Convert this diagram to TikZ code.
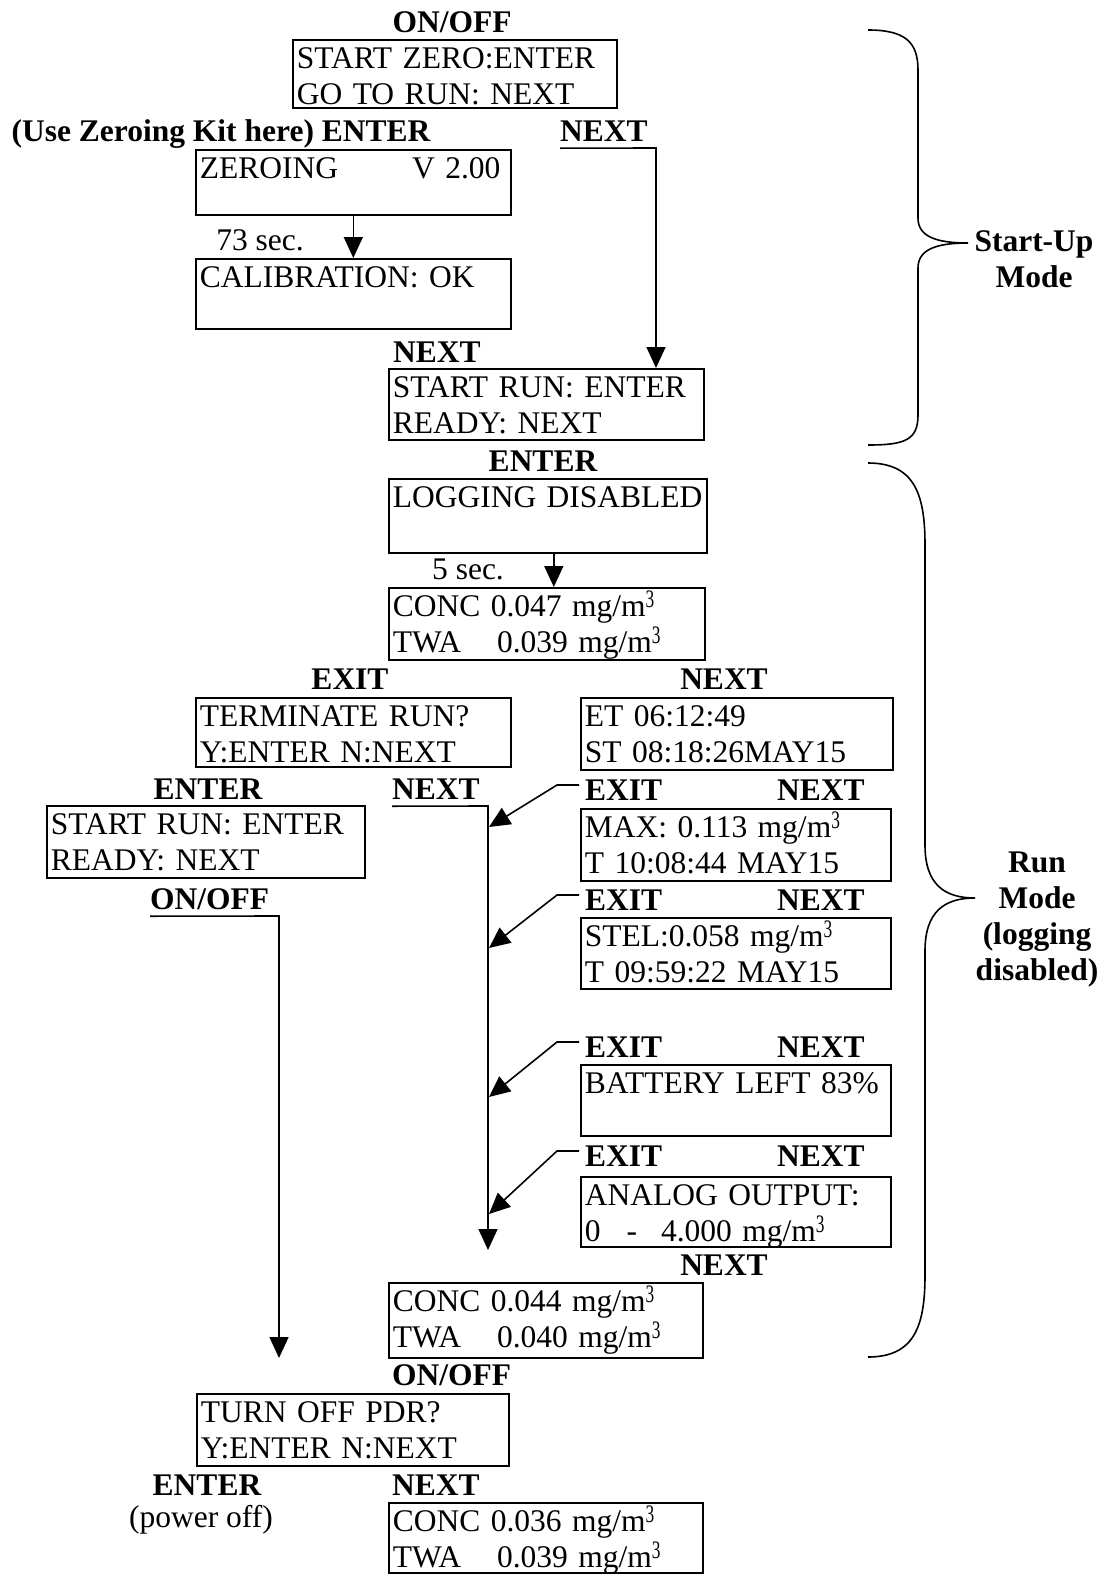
\documentclass[tikz,border=0pt]{standalone}
\usepackage{fontspec}
\setmainfont{Liberation Serif}
\usetikzlibrary{arrows.meta}
\newcommand\scrfont{\fontsize{31.5}{36}\selectfont}
\newcommand\keyfont{\fontsize{31.5}{36}\selectfont\bfseries}
\newcommand\mgm{mg/m\raisebox{9pt}{\scalebox{0.55}[0.8]{3}}}

\begin{document}
\begin{tikzpicture}[x=1pt, y=-1pt,
    screen/.style={draw, line width=1.6pt, anchor=north west, align=left,
        inner xsep=4pt, inner ysep=0pt, text height=29pt, font=\scrfont},
    key/.style={inner sep=0pt, text depth=7pt, font=\keyfont},
    note/.style={inner sep=0pt, font=\scrfont},
    arr/.style={line width=1.6pt, -{Triangle[length=21pt,width=19pt]}},
    brace/.style={line width=1.6pt}]
    \useasboundingbox (0,0) rectangle (1107,1574);

    % screens
    \node[screen, text width=316pt, text depth=39pt] (menu)    at (292,  39) {START ZERO:ENTER\\GO TO RUN: NEXT};
    \node[screen, text width=307pt, text depth=36pt] (zeroing) at (195, 149) {ZEROING\hspace{74pt}V 2.00};
    \node[screen, text width=307pt, text depth=41pt] (calib)   at (195, 258) {CALIBRATION: OK};
    \node[screen, text width=307pt, text depth=42pt] (ready1)  at (388, 368) {START RUN: ENTER\\READY: NEXT};
    \node[screen, text width=310pt, text depth=45pt] (logging) at (388, 478) {LOGGING DISABLED};
    \node[screen, text width=308pt, text depth=43pt] (conc1)   at (388, 587) {CONC 0.047 \mgm\\TWA\hspace{36pt}0.039 \mgm};
    \node[screen, text width=307pt, text depth=40pt] (term)    at (195, 697) {TERMINATE RUN?\\Y:ENTER N:NEXT};
    \node[screen, text width=304pt, text depth=43pt] (elapsed) at (580, 697) {ET 06:12:49\\ST 08:18:26MAY15};
    \node[screen, text width=310pt, text depth=43pt] (ready2)  at ( 46, 805) {START RUN: ENTER\\READY: NEXT};
    \node[screen, text width=302pt, text depth=43pt] (maxval)  at (580, 808) {MAX: 0.113 \mgm\\T 10:08:44 MAY15};
    \node[screen, text width=302pt, text depth=42pt] (stel)    at (580, 917) {STEL:0.058 \mgm\\T 09:59:22 MAY15};
    \node[screen, text width=302pt, text depth=42pt] (battery) at (580,1064) {BATTERY LEFT 83\%};
    \node[screen, text width=302pt, text depth=41pt] (analog)  at (580,1176) {ANALOG OUTPUT:\\0\hspace{26pt}-\hspace{24pt}4.000 \mgm};
    \node[screen, text width=306pt, text depth=46pt] (conc2)   at (388,1282) {CONC 0.044 \mgm\\TWA\hspace{36pt}0.040 \mgm};
    \node[screen, text width=304pt, text depth=43pt] (turnoff) at (196,1393) {TURN OFF PDR?\\Y:ENTER N:NEXT};
    \node[screen, text width=306pt, text depth=41pt] (conc3)   at (388,1502) {CONC 0.036 \mgm\\TWA\hspace{36pt}0.039 \mgm};

    % key labels
    \node[key, anchor=base]      (onoff1)   at (452,  32) {ON/OFF};
    \node[key, anchor=base]      (useKit)   at (221, 141) {(Use Zeroing Kit here) ENTER};
    \node[key, anchor=base west] (nextA)    at (560, 141) {NEXT};
    \node[note, anchor=base]     (sec73)    at (260, 250) {73 sec.};
    \node[key, anchor=base west] (nextB)    at (393, 362) {NEXT};
    \node[key, anchor=base]      (enterA)   at (543, 471) {ENTER};
    \node[note, anchor=base]     (sec5)     at (468, 579) {5 sec.};
    \node[key, anchor=base]      (exitA)    at (350, 689) {EXIT};
    \node[key, anchor=base]      (nextC)    at (724, 689) {NEXT};
    \node[key, anchor=base]      (enterB)   at (208, 799) {ENTER};
    \node[key, anchor=base west] (nextD)    at (392, 799) {NEXT};
    \node[key, anchor=base west] (onoff2)   at (150, 909) {ON/OFF};
    \node[key, anchor=base west] (exit1)    at (585, 800) {EXIT};
    \node[key, anchor=base west] (next1)    at (777, 800) {NEXT};
    \node[key, anchor=base west] (exit2)    at (585, 910) {EXIT};
    \node[key, anchor=base west] (next2)    at (777, 910) {NEXT};
    \node[key, anchor=base west] (exit3)    at (585,1057) {EXIT};
    \node[key, anchor=base west] (next3)    at (777,1057) {NEXT};
    \node[key, anchor=base west] (exit4)    at (585,1166) {EXIT};
    \node[key, anchor=base west] (next4)    at (777,1166) {NEXT};
    \node[key, anchor=base]      (nextE)    at (724,1275) {NEXT};
    \node[key, anchor=base west] (onoff3)   at (392,1385) {ON/OFF};
    \node[key, anchor=base]      (enterC)   at (207,1495) {ENTER};
    \node[note, anchor=base]     (poweroff) at (201,1527) {(power off)};
    \node[key, anchor=base west] (nextF)    at (392,1495) {NEXT};

    \node[key, text depth=0pt, align=center] (modeA) at (1034, 259) {Start-Up\\Mode};
    \node[key, text depth=0pt, align=center] (modeB) at (1037, 916) {Run\\Mode\\(logging\\disabled)};

    % connectors
    \coordinate (kA) at (656, 148);
    \coordinate (kD) at (488, 806);
    \coordinate (eD) at (488,1250);
    \coordinate (kO) at (279, 916);
    \coordinate (eO) at (279,1358);
    \coordinate (t1) at (489, 827);
    \coordinate (t2) at (489, 948);
    \coordinate (t3) at (489,1097);
    \coordinate (t4) at (489,1214);

    \draw[arr] (zeroing.south) -- (calib.north);
    \draw[arr] ([xshift=6pt]logging.south) -- ([xshift=6pt]logging.south |- conc1.north);
    \draw[arr] (nextA.south west) -- (kA) -- (kA |- ready1.north);
    \draw[arr] (nextD.south west) -- (kD) -- (eD);
    \draw[arr] (onoff2.south west) -- (kO) -- (eO);

    \draw[arr] ([shift={(-6pt,15pt)}]exit1.base west) -- ++(-22,0) -- (t1);
    \draw[arr] ([shift={(-6pt,15pt)}]exit2.base west) -- ++(-22,0) -- (t2);
    \draw[arr] ([shift={(-6pt,15pt)}]exit3.base west) -- ++(-22,0) -- (t3);
    \draw[arr] ([shift={(-6pt,15pt)}]exit4.base west) -- ++(-22,0) -- (t4);

    % braces
    \draw[brace] (868,30) .. controls (905,30) and (918,42) .. (918,70) -- (918,218)
        .. controls (918,236) and (935,243) .. (968,243)
        .. controls (935,243) and (918,250) .. (918,268) -- (918,415)
        .. controls (918,440) and (905,445) .. (868,445);
    \draw[brace] (868,463) .. controls (915,463) and (925,495) .. (925,545) -- (925,845)
        .. controls (925,885) and (945,898) .. (975,898)
        .. controls (945,898) and (925,911) .. (925,951) -- (925,1275)
        .. controls (925,1325) and (915,1357) .. (868,1357);
\end{tikzpicture}
\end{document}
